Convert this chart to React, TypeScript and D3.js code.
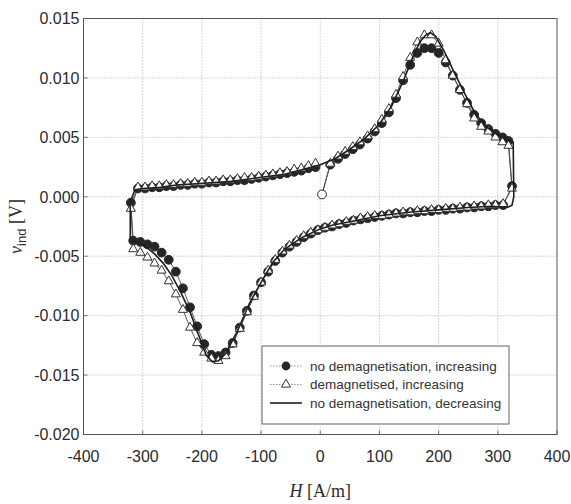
import React, { useEffect, useRef } from 'react';
import * as d3 from 'd3';

// H [A/m] positions of the two "increasing" marker series (they share one path order:
// start, rising branch, jump, falling branch, jump, rising branch back to 0)
const markerH = [
  3,
  17, 30, 42, 55, 67, 80, 92, 104, 116, 128, 140, 152, 164, 176, 188, 200, 212, 224, 236, 248, 260, 272, 284, 296, 308, 318,
  324,
  309, 296, 284, 272, 260, 248, 236, 224, 212, 200, 188, 176, 164, 152, 140, 128, 116, 104, 92, 80,
  68, 56, 44, 32, 20, 8, -4, -16, -28, -40, -52, -64, -76, -88, -100, -112, -124, -136, -148, -160,
  -172, -184, -196, -208, -220, -232, -244, -256, -268, -280, -292, -304, -316,
  -320,
  -308, -296, -284, -272, -260, -248, -236, -224, -212, -200, -188, -176, -164, -152, -140, -128, -116, -104, -92, -80,
  -68, -56, -44, -32, -20, -8,
];

// no demagnetisation, increasing (filled circles)
const circleV = [
  0.0002,
  0.0027, 0.0032, 0.0036, 0.0040, 0.0044, 0.0049, 0.0055, 0.0062, 0.0071, 0.0083, 0.0098, 0.0111, 0.0121, 0.0125, 0.0125, 0.0121, 0.0113, 0.0102, 0.0090, 0.0079, 0.0069, 0.0062, 0.0057, 0.0053, 0.0050, 0.0047,
  0.0009,
  -0.0007, -0.0007, -0.0008, -0.0008, -0.0009, -0.0009, -0.0010, -0.0010, -0.0011, -0.0011, -0.0012, -0.0012, -0.0013, -0.0013, -0.0014, -0.0014, -0.0015, -0.0016, -0.0017, -0.0018,
  -0.0019, -0.0020, -0.0022, -0.0023, -0.0025, -0.0026, -0.0028, -0.0031, -0.0034, -0.0038, -0.0042, -0.0047, -0.0054, -0.0063, -0.0072, -0.0083, -0.0096, -0.0110, -0.0123, -0.0131,
  -0.0134, -0.0133, -0.0124, -0.0109, -0.0093, -0.0077, -0.0063, -0.0053, -0.0047, -0.0042, -0.0040, -0.0038, -0.0037,
  -0.0005,
  0.0007, 0.0007, 0.0008, 0.0008, 0.0009, 0.0009, 0.0010, 0.0010, 0.0011, 0.0011, 0.0012, 0.0012, 0.0013, 0.0013, 0.0014, 0.0014, 0.0015, 0.0016, 0.0017, 0.0018,
  0.0019, 0.0020, 0.0021, 0.0022, 0.0024, 0.0025,
];

// demagnetised, increasing (open triangles)
const triangleV = [
  0.0002,
  0.0028, 0.0034, 0.0038, 0.0042, 0.0046, 0.0051, 0.0057, 0.0065, 0.0074, 0.0086, 0.0101, 0.0117, 0.0130, 0.0136, 0.0136, 0.0129, 0.0115, 0.0102, 0.0090, 0.0078, 0.0066, 0.0059, 0.0055, 0.0050, 0.0046, 0.0043,
  0.0007,
  -0.0006, -0.0007, -0.0007, -0.0008, -0.0008, -0.0009, -0.0009, -0.0010, -0.0010, -0.0011, -0.0011, -0.0012, -0.0012, -0.0013, -0.0013, -0.0014, -0.0015, -0.0016, -0.0016, -0.0017,
  -0.0018, -0.0020, -0.0021, -0.0023, -0.0024, -0.0026, -0.0028, -0.0030, -0.0033, -0.0037, -0.0041, -0.0046, -0.0053, -0.0062, -0.0072, -0.0084, -0.0097, -0.0111, -0.0124, -0.0134,
  -0.0138, -0.0136, -0.0131, -0.0123, -0.0110, -0.0095, -0.0082, -0.0071, -0.0062, -0.0056, -0.0051, -0.0047, -0.0044,
  -0.0010,
  0.0008, 0.0008, 0.0009, 0.0009, 0.0010, 0.0010, 0.0011, 0.0011, 0.0012, 0.0012, 0.0013, 0.0013, 0.0014, 0.0014, 0.0015, 0.0016, 0.0016, 0.0017, 0.0018, 0.0019,
  0.0020, 0.0021, 0.0023, 0.0024, 0.0026, 0.0028,
];

// no demagnetisation, decreasing (solid line)
const lineH = [
  -321, -321, -313, -300, -270, -240, -210, -180, -150, -120,
  -90, -60, -30, 0, 25, 50, 75, 100, 120, 140,
  155, 168, 178, 186, 195, 210, 225, 245, 262, 280,
  300, 315, 326, 327, 324, 316, 290, 250, 200, 150,
  100, 50, 20, 0, -30, -60, -80, -100, -120, -140,
  -160, -172, -182, -193, -205, -220, -235, -250, -265, -280,
  -295, -310, -321,
];
const lineV = [
  -0.0037, -0.0004, 0.0006, 0.0007, 0.0008, 0.0010, 0.0011, 0.0012, 0.0013, 0.0015,
  0.0017, 0.0019, 0.0023, 0.0027, 0.0032, 0.0040, 0.0049, 0.0061, 0.0076, 0.0097,
  0.0116, 0.0130, 0.0136, 0.0138, 0.0135, 0.0122, 0.0106, 0.0086, 0.0070, 0.0059,
  0.0052, 0.0048, 0.0046, 0.0000, -0.0007, -0.0009, -0.0008, -0.0009, -0.0011, -0.0013,
  -0.0016, -0.0021, -0.0024, -0.0027, -0.0034, -0.0044, -0.0055, -0.0072, -0.0090, -0.0113,
  -0.0132, -0.0138, -0.0139, -0.0133, -0.0117, -0.0097, -0.0081, -0.0067, -0.0056, -0.0048,
  -0.0042, -0.0038, -0.0037,
];

const xTicks = [-400, -300, -200, -100, 0, 100, 200, 300, 400];
const yTicks = [0.015, 0.01, 0.005, 0, -0.005, -0.01, -0.015, -0.02];
const legendLabels = [
  'no demagnetisation, increasing',
  'demagnetised, increasing',
  'no demagnetisation, decreasing',
];

const W = 571;
const H = 504;
const margin = { top: 18.5, right: 14, bottom: 69.5, left: 83.5 };

const App = () => {
  const ref = useRef(null);

  useEffect(() => {
    const svg = d3.select(ref.current);
    svg.selectAll('*').remove();

    const x = d3.scaleLinear().domain([-400, 400]).range([margin.left, W - margin.right]);
    const y = d3.scaleLinear().domain([-0.02, 0.015]).range([H - margin.bottom, margin.top]);
    const sans = 'Liberation Sans, Arial, sans-serif';
    const serif = 'Liberation Serif, Times New Roman, serif';
    const ink = '#2b2b2b';
    const minus = (s) => s.replace('\u2212', '-');

    svg.append('rect').attr('width', W).attr('height', H).attr('fill', 'white');

    // grid
    const grid = svg.append('g').attr('stroke', '#9a9a9a').attr('stroke-width', 0.8).attr('stroke-dasharray', '1,2');
    xTicks.slice(1, -1).forEach((t) => {
      grid.append('line').attr('x1', x(t)).attr('x2', x(t)).attr('y1', y(0.015)).attr('y2', y(-0.02));
    });
    yTicks.slice(1, -1).forEach((t) => {
      grid.append('line').attr('y1', y(t)).attr('y2', y(t)).attr('x1', x(-400)).attr('x2', x(400));
    });

    // inner ticks
    const ticks = svg.append('g').attr('stroke', '#555').attr('stroke-width', 0.8);
    xTicks.forEach((t) => {
      ticks.append('line').attr('x1', x(t)).attr('x2', x(t)).attr('y1', y(-0.02)).attr('y2', y(-0.02) - 4);
    });
    yTicks.forEach((t) => {
      ticks.append('line').attr('y1', y(t)).attr('y2', y(t)).attr('x1', x(-400)).attr('x2', x(-400) + 4);
    });

    // frame
    svg.append('rect')
      .attr('x', x(-400)).attr('y', y(0.015))
      .attr('width', x(400) - x(-400)).attr('height', y(-0.02) - y(0.015))
      .attr('fill', 'none').attr('stroke', '#555').attr('stroke-width', 1);

    // tick labels
    svg.append('g').selectAll('text').data(xTicks).enter().append('text')
      .attr('x', (d) => x(d)).attr('y', y(-0.02) + 27)
      .attr('text-anchor', 'middle')
      .attr('font-family', sans).attr('font-size', 16).attr('fill', ink)
      .text((d) => minus(d3.format('d')(d)));
    svg.append('g').selectAll('text').data(yTicks).enter().append('text')
      .attr('x', x(-400) - 4).attr('y', (d) => y(d)).attr('dy', '0.36em')
      .attr('text-anchor', 'end')
      .attr('font-family', sans).attr('font-size', 16).attr('fill', ink)
      .text((d) => minus(d3.format('.3f')(d)));

    // axis titles
    const xt = svg.append('text')
      .attr('x', (x(-400) + x(400)) / 2).attr('y', 497)
      .attr('text-anchor', 'middle')
      .attr('font-family', serif).attr('font-size', 18).attr('fill', ink);
    xt.append('tspan').attr('font-style', 'italic').text('H');
    xt.append('tspan').text(' [A/m]');

    const yt = svg.append('text')
      .attr('transform', `translate(22, ${(y(0.015) + y(-0.02)) / 2}) rotate(-90)`)
      .attr('text-anchor', 'middle')
      .attr('font-family', serif).attr('font-size', 18).attr('fill', ink);
    yt.append('tspan').attr('font-style', 'italic').text('v');
    yt.append('tspan').attr('font-family', sans).attr('font-size', 13).attr('dy', 4).text('ind');
    yt.append('tspan').attr('dy', -4).text(' [V]');

    const circlePts = markerH.map((h, i) => [h, circleV[i]]);
    const trianglePts = markerH.map((h, i) => [h, triangleV[i]]);
    const linePts = lineH.map((h, i) => [h, lineV[i]]);

    const path = d3.line().x((d) => x(d[0])).y((d) => y(d[1]));

    // connecting lines of marker series
    svg.append('path').attr('d', path(circlePts)).attr('fill', 'none')
      .attr('stroke', '#444').attr('stroke-width', 0.9);
    svg.append('path').attr('d', path(trianglePts)).attr('fill', 'none')
      .attr('stroke', '#444').attr('stroke-width', 0.9);

    // circles
    svg.append('g').selectAll('circle').data(circlePts).enter().append('circle')
      .attr('cx', (d) => x(d[0])).attr('cy', (d) => y(d[1])).attr('r', 4.4)
      .attr('fill', (d, i) => (i === 0 ? 'white' : '#262626'))
      .attr('stroke', '#262626').attr('stroke-width', 1);

    // triangles
    const tri = d3.symbol().type(d3.symbolTriangle).size(36);
    svg.append('g').selectAll('path').data(trianglePts.slice(1)).enter().append('path')
      .attr('d', tri)
      .attr('transform', (d) => `translate(${x(d[0])}, ${y(d[1])})`)
      .attr('fill', 'white').attr('stroke', '#333').attr('stroke-width', 1);

    // solid line
    svg.append('path').attr('d', path(linePts)).attr('fill', 'none')
      .attr('stroke', '#1e1e1e').attr('stroke-width', 1.6);

    // legend
    const lg = svg.append('g');
    lg.append('rect').attr('x', 262).attr('y', 346).attr('width', 247).attr('height', 78)
      .attr('fill', 'white').attr('stroke', '#555').attr('stroke-width', 0.9);
    const rows = [366, 384.5, 403];
    legendLabels.forEach((lab, i) => {
      const ry = rows[i];
      const ln = lg.append('line').attr('x1', 270).attr('x2', 302).attr('y1', ry).attr('y2', ry);
      if (i < 2) {
        ln.attr('stroke', '#777').attr('stroke-width', 0.8).attr('stroke-dasharray', '1.5,1.5');
      } else {
        ln.attr('stroke', '#1e1e1e').attr('stroke-width', 1.6);
      }
      if (i === 0) {
        lg.append('circle').attr('cx', 286).attr('cy', ry).attr('r', 4.4).attr('fill', '#262626');
      } else if (i === 1) {
        lg.append('path').attr('d', tri).attr('transform', `translate(286, ${ry})`)
          .attr('fill', 'white').attr('stroke', '#333').attr('stroke-width', 1);
      }
      lg.append('text').attr('x', 310).attr('y', ry).attr('dy', '0.35em')
        .attr('font-family', sans).attr('font-size', 13.5).attr('fill', '#333')
        .text(lab);
    });
  }, []);

  return (
    <svg ref={ref} width={W} height={H} style={{ position: 'absolute', left: 0, top: 0 }} />
  );
};

export default App;
